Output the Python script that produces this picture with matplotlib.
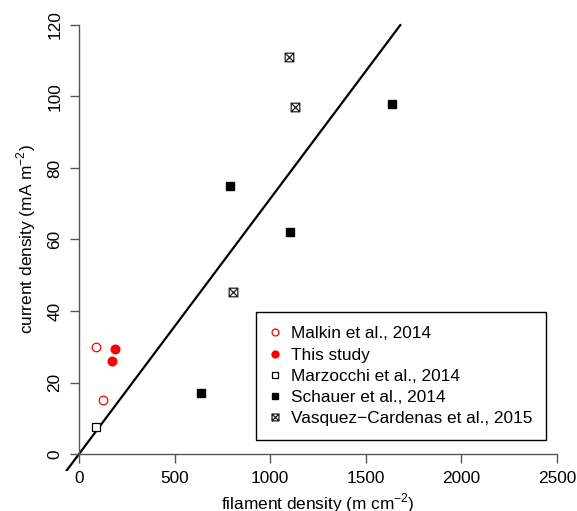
import matplotlib
matplotlib.use("Agg")
import matplotlib.pyplot as plt
from matplotlib.path import Path
import numpy as np

plt.rcParams['font.family'] = ['Liberation Sans', 'DejaVu Sans']
plt.rcParams['mathtext.fontset'] = 'custom'
plt.rcParams['mathtext.rm'] = 'Liberation Sans'

# data
malkin_x = [87, 127]
malkin_y = [30, 15]
this_x = [188, 171]
this_y = [29.4, 26]
marz_x = [87]
marz_y = [7.6]
schauer_x = [637, 791, 1104, 1637]
schauer_y = [17, 75, 62, 98]
vasquez_x = [806, 1096, 1132]
vasquez_y = [45.2, 111, 97]

# fitted line through origin
slope = 0.0714
line_x = [-100, 1680]

xticks = [0, 500, 1000, 1500, 2000, 2500]
yticks = [0, 20, 40, 60, 80, 100, 120]

# square with a cross inside (R pch 7)
boxx = Path([(-1, -1), (1, -1), (1, 1), (-1, 1), (-1, -1), (-1, -1), (1, 1), (-1, 1), (1, -1)],
            [Path.MOVETO, Path.LINETO, Path.LINETO, Path.LINETO, Path.CLOSEPOLY,
             Path.MOVETO, Path.LINETO, Path.MOVETO, Path.LINETO])

fs = 12.4
axcol = '#555555'

fig = plt.figure(figsize=(5.77, 5.11), dpi=100)
ax = fig.add_axes([0.1038, 0.0779, 0.8948, 0.9069])

ax.plot(line_x, [slope * v for v in line_x], color='black', lw=1.6, zorder=1)

ms = 6.2
ax.plot(malkin_x, malkin_y, 'o', ls='none', mfc='white', mec='red', mew=0.9, ms=ms,
        label='Malkin et al., 2014')
ax.plot(this_x, this_y, 'o', ls='none', mfc='red', mec='red', ms=ms, label='This study')
ax.plot(marz_x, marz_y, 's', ls='none', mfc='white', mec='black', mew=0.9, ms=ms,
        label='Marzocchi et al., 2014')
ax.plot(schauer_x, schauer_y, 's', ls='none', mfc='black', mec='black', ms=ms,
        label='Schauer et al., 2014')
ax.plot(vasquez_x, vasquez_y, marker=boxx, ls='none', mfc='none', mec='#222222', mew=0.9,
        ms=ms, label='Vasquez\u2212Cardenas et al., 2015')

ax.set_xlim(-100, 2600)
ax.set_ylim(-4.8, 124.8)

for s in ['top', 'right']:
    ax.spines[s].set_visible(False)
ax.spines['left'].set_position(('data', 0))
ax.spines['bottom'].set_position(('data', 0))
ax.spines['left'].set_bounds(0, 120)
ax.spines['bottom'].set_bounds(0, 2500)
for s in ['left', 'bottom']:
    ax.spines[s].set_color(axcol)
    ax.spines[s].set_linewidth(1.0)

ax.set_xticks(xticks)
ax.set_yticks(yticks)
ax.tick_params(axis='both', direction='out', length=6.5, width=1.0, color=axcol,
               labelsize=fs, pad=5.5)
for lab in ax.get_yticklabels():
    lab.set_rotation(90)
    lab.set_va('center')

ax.set_xlabel('filament density (m cm$^{-2}$)', fontsize=fs, va='center')
ax.set_ylabel('current density (mA m$^{-2}$)', fontsize=fs, va='center')
ax.xaxis.set_label_coords(0.5, -0.0686)
ax.yaxis.set_label_coords(-0.0657, 0.5)

leg = ax.legend(loc='lower right', bbox_to_anchor=(2442, 3.9), bbox_transform=ax.transData,
                borderaxespad=0, fontsize=fs, fancybox=False, framealpha=1, edgecolor='black',
                labelspacing=0.36, handlelength=0.7, handletextpad=0.55, borderpad=0.8,
                markerscale=0.8)
leg.get_frame().set_linewidth(1.0)

fig.savefig('out.png', dpi=100)
